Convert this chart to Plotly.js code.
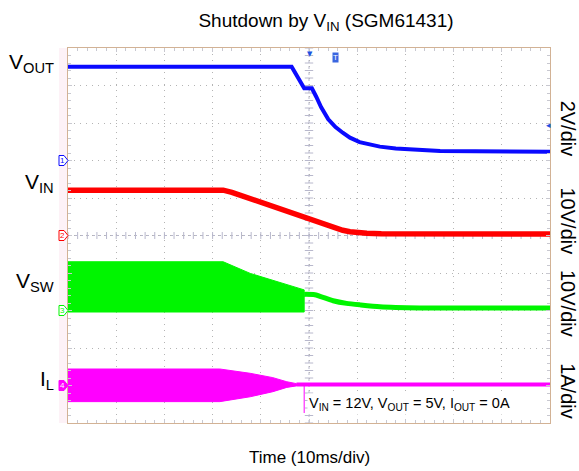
<!DOCTYPE html>
<html>
<head>
<meta charset="utf-8">
<script src="https://cdn.plot.ly/plotly-3.0.1.min.js"></script>
<style>html,body{margin:0;padding:0;background:#fff;}#chart{width:579px;height:471px;}</style>
</head>
<body>
<div id="chart"></div>
<script>
// ---- data (time in ms, 10 ms/div) ----
const T_VOUT = [0, 46.4, 49.0, 50.6, 51.5, 52.5, 54.0, 55.5, 57.0, 58.5, 60.5, 62.7, 64.7, 68.0, 71.6, 77.2, 100];
const VOUT   = [5.0, 5.0, 3.85, 3.85, 3.4, 2.85, 2.2, 1.78, 1.48, 1.22, 0.98, 0.83, 0.74, 0.64, 0.57, 0.51, 0.47];

const T_VIN = [0, 32.2, 34, 37, 40, 43, 46, 49, 52, 55, 57, 58.5, 60, 62, 65, 100];
const VIN   = [12.1, 12.1, 11.5, 10.2, 8.9, 7.4, 6.0, 4.7, 3.5, 2.2, 1.4, 1.0, 0.75, 0.6, 0.45, 0.4];

const T_SW_ENV = [0, 32.2, 37.8, 43.3, 48.1, 49.0];
const SW_TOP   = [13.0, 13.0, 9.9, 7.7, 5.7, 5.5];
const SW_BOT   = [-0.4, -0.4, -0.4, -0.4, -0.4, -0.4];
const T_SW_OFF = [49.0, 51.2, 55.0, 57.8, 60.6, 64.7, 73, 100];
const SW_OFF   = [4.3, 4.2, 2.6, 1.9, 1.5, 1.0, 0.7, 0.67];

const T_IL_ENV = [0, 31.5, 37.8, 42.5, 45.4, 47.4];
const IL_TOP   = [0.44, 0.44, 0.325, 0.21, 0.10, 0.05];
const IL_BOT   = [-0.43, -0.43, -0.30, -0.165, -0.05, -0.01];
const T_IL_OFF = [47.4, 100];
const IL_OFF   = [0.03, 0.03];

// channel positions (divisions from bottom) and scales (units/div)
const CH_POS   = [7, 5, 3, 1];
const CH_SCALE = [2, 10, 10, 1];
const CH_COLOR = ['#0a0aff', '#ff0000', '#00f500', '#ff00ff'];
const CH_LABEL = ['V<sub>OUT</sub>', 'V<sub>IN</sub>', 'V<sub>SW</sub>', 'I<sub>L</sub>'];
const CH_LABEL_Y = [9.6, 6.4, 3.76, 1.15];
const DIV_LABEL = ['2V/div', '10V/div', '10V/div', '1A/div'];
const DIV_LABEL_Y = [7.85, 5.4, 3.2, 0.85];

function toDiv(vals, ch) { return vals.map(v => CH_POS[ch] + v / CH_SCALE[ch]); }

const W = 579, H = 471, ML = 68, MR = 29, MT = 48, MB = 48;
const PW = W - ML - MR, PH = H - MT - MB;
const px2paper = p => (p - ML) / PW;
const px2div = p => p / (PH / 10);

const traces = [];

// center-line tick marks
const tx = [], ty = [];
for (let i = 0; i <= 50; i++) { tx.push(i * 2); ty.push(5); }
traces.push({x: tx, y: ty, mode: 'markers', hoverinfo: 'skip', showlegend: false,
  marker: {symbol: 'line-ns', size: 5, line: {width: 1, color: '#b8b8cc'}}});
const vx = [], vy = [];
for (let i = 0; i <= 50; i++) { vx.push(50); vy.push(i * 0.2); }
traces.push({x: vx, y: vy, mode: 'markers', hoverinfo: 'skip', showlegend: false,
  marker: {symbol: 'line-ew', size: 6, line: {width: 1, color: '#b8b8cc'}}});

// bands
function band(t, top, bot, ch) {
  const xs = t.concat(t.slice().reverse());
  const ys = toDiv(top, ch).concat(toDiv(bot, ch).reverse());
  return {x: xs, y: ys, mode: 'lines', fill: 'toself', fillcolor: CH_COLOR[ch],
    line: {color: CH_COLOR[ch], width: 1}, hoverinfo: 'skip', showlegend: false};
}
traces.push(band(T_IL_ENV, IL_TOP, IL_BOT, 3));
traces.push({x: T_IL_OFF, y: toDiv(IL_OFF, 3), mode: 'lines', line: {color: CH_COLOR[3], width: 4}, showlegend: false});
traces.push(band(T_SW_ENV, SW_TOP, SW_BOT, 2));
traces.push({x: T_SW_OFF, y: toDiv(SW_OFF, 2), mode: 'lines', line: {color: CH_COLOR[2], width: 5, shape: 'spline', smoothing: 0.6}, showlegend: false});
traces.push({x: T_VIN, y: toDiv(VIN, 1), mode: 'lines', line: {color: CH_COLOR[1], width: 5.5}, showlegend: false});
traces.push({x: T_VOUT, y: toDiv(VOUT, 0), mode: 'lines', line: {color: CH_COLOR[0], width: 4}, showlegend: false});

const FONT = 'Liberation Sans, Arial, sans-serif';
const annotations = [];
const shapes = [];

// left pink strip
shapes.push({type: 'rect', xref: 'paper', yref: 'paper', x0: px2paper(59), x1: 0, y0: 0, y1: 1,
  fillcolor: '#fdf2f7', line: {width: 0}, layer: 'below'});

// center cross lines
shapes.push({type: 'line', xref: 'x', yref: 'y', x0: 50, x1: 50, y0: 0, y1: 10, line: {color: '#b8b8cc', width: 1, dash: '3px,3px'}, layer: 'below'});
shapes.push({type: 'line', xref: 'x', yref: 'y', x0: 0, x1: 100, y0: 5, y1: 5, line: {color: '#b8b8cc', width: 1, dash: '3px,3px'}, layer: 'below'});

for (let c = 0; c < 4; c++) {
  annotations.push({xref: 'paper', yref: 'y', x: px2paper(56), y: CH_LABEL_Y[c], xanchor: 'right', yanchor: 'middle',
    text: CH_LABEL[c], showarrow: false, font: {family: FONT, size: 21, color: '#000'}});
  annotations.push({xref: 'paper', yref: 'y', x: px2paper(568), y: DIV_LABEL_Y[c], xanchor: 'center', yanchor: 'middle',
    text: DIV_LABEL[c], textangle: 90, showarrow: false, font: {family: FONT, size: 20, color: '#000'}});
  // channel markers
  const y0 = CH_POS[c], h = px2div(5);
  const xa = px2paper(59), xb = px2paper(64), xc = px2paper(68);
  shapes.push({type: 'path', xref: 'paper', yref: 'y',
    path: `M ${xa},${y0 - h} L ${xb},${y0 - h} L ${xc},${y0} L ${xb},${y0 + h} L ${xa},${y0 + h} Z`,
    fillcolor: c === 3 ? CH_COLOR[3] : '#ffffff', line: {color: CH_COLOR[c], width: 1}});
  annotations.push({xref: 'paper', yref: 'y', x: px2paper(62.5), y: y0, xanchor: 'center', yanchor: 'middle',
    text: String(c + 1), showarrow: false, font: {family: FONT, size: 8, color: c === 3 ? '#ffffff' : CH_COLOR[c]}});
}

// trigger markers
annotations.push({xref: 'x', yref: 'paper', x: 50.2, y: 1, yanchor: 'top', xanchor: 'center', text: '▼', showarrow: false,
  font: {family: 'DejaVu Sans', size: 7, color: '#2050e0'}});
annotations.push({xref: 'x', yref: 'y', x: 55.6, y: px2div(423 - 57), xanchor: 'center', yanchor: 'middle', text: 'T', showarrow: false,
  bgcolor: '#3a66e0', borderpad: 0, font: {family: FONT, size: 8, color: '#ffffff'}});
annotations.push({xref: 'paper', yref: 'y', x: px2paper(548), y: px2div(423 - 125), xanchor: 'center', yanchor: 'middle', text: '◂', showarrow: false,
  font: {family: 'DejaVu Sans', size: 9, color: '#2050e0'}});

// condition text + cursor line
shapes.push({type: 'line', xref: 'x', yref: 'y', x0: 49.0, x1: 49.0, y0: px2div(423 - 413), y1: 1, line: {color: '#ff00ff', width: 1}});
annotations.push({xref: 'x', yref: 'y', x: 49.5, y: px2div(423 - 404), xanchor: 'left', yanchor: 'middle',
  text: 'V<sub>IN</sub> = 12V, V<sub>OUT</sub> = 5V, I<sub>OUT</sub> = 0A', showarrow: false, bgcolor: '#ffffff', borderpad: 1,
  font: {family: FONT, size: 14.5, color: '#000'}});

// x title
annotations.push({xref: 'paper', yref: 'paper', x: 0.5, y: -(457 - (H - MB)) / PH, xanchor: 'center', yanchor: 'middle',
  text: 'Time (10ms/div)', showarrow: false, font: {family: FONT, size: 17, color: '#000'}});

const axisCommon = {
  showline: true, linecolor: '#d2b295', linewidth: 1, mirror: 'ticks',
  showgrid: true, gridcolor: '#b4b4b4', griddash: '1px,5px', gridwidth: 1,
  zeroline: false, showticklabels: false,
  ticks: 'inside', ticklen: 4, tickcolor: '#c8c8d0'
};

const layout = {
  width: W, height: H,
  margin: {l: ML, r: MR, t: MT, b: MB},
  paper_bgcolor: '#ffffff', plot_bgcolor: '#ffffff',
  title: {text: 'Shutdown by V<sub>IN</sub> (SGM61431)', font: {family: FONT, size: 19, color: '#000'},
    x: 326 / W, xanchor: 'center', y: 1 - 20 / H, yref: 'container', yanchor: 'middle'},
  xaxis: Object.assign({}, axisCommon, {range: [0, 100], dtick: 10, tick0: 0, fixedrange: true,
    minor: {dtick: 2, ticks: 'inside', ticklen: 3, tickcolor: '#c8c8d0', showgrid: false}}),
  yaxis: Object.assign({}, axisCommon, {range: [0, 10], dtick: 1, tick0: 0, fixedrange: true,
    minor: {dtick: 0.2, ticks: 'inside', ticklen: 3, tickcolor: '#c8c8d0', showgrid: false}}),
  showlegend: false,
  annotations: annotations,
  shapes: shapes
};

Plotly.newPlot('chart', traces, layout, {displayModeBar: false, staticPlot: true});
</script>
</body>
</html>
